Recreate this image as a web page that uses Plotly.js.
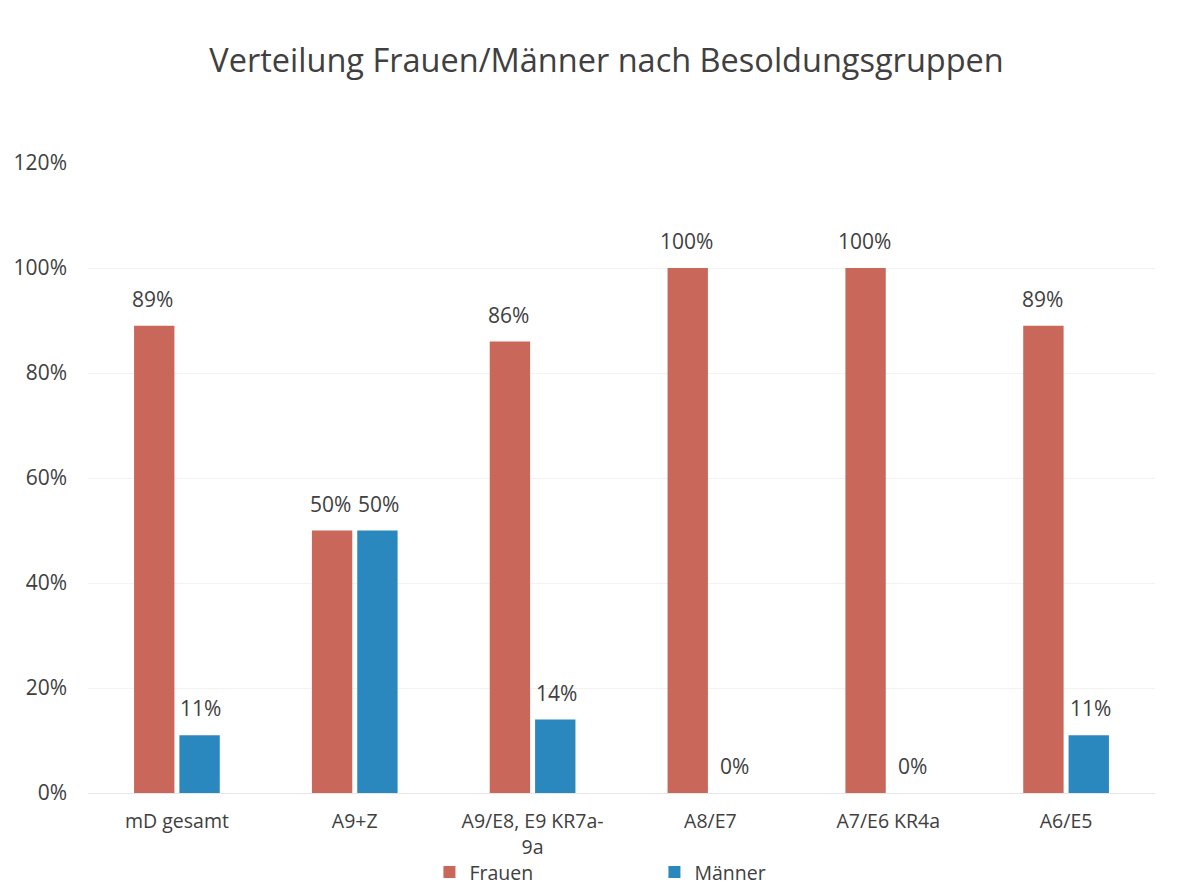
<!DOCTYPE html>
<html>
<head>
<meta charset="utf-8">
<script src="https://cdn.plot.ly/plotly-3.0.1.min.js"></script>
<style>html,body{margin:0;padding:0;background:#fff;}#chart{width:1194px;height:885px;}</style>
</head>
<body>
<div id="chart"></div>
<script>
const categories = ["mD gesamt", "A9+Z", "A9/E8, E9 KR7a-<br>9a", "A8/E7", "A7/E6 KR4a", "A6/E5"];
const frauen = [0.89, 0.50, 0.86, 1.00, 1.00, 0.89];
const maenner = [0.11, 0.50, 0.14, 0.00, 0.00, 0.11];
const seriesNames = ["Frauen", "Männer"];
const yTickVals = [0, 0.2, 0.4, 0.6, 0.8, 1.0, 1.2];
const yTickText = ["0%", "20%", "40%", "60%", "80%", "100%", "120%"];

const FONT = "Open Sans, Noto Sans, sans-serif";
const TXT = "#404040";
const colors = ["#C8675A", "#2B88BE"];

const traces = [frauen, maenner].map((vals, i) => ({
  type: "bar",
  name: seriesNames[i],
  x: categories,
  y: vals,
  marker: {color: colors[i]},
  hoverinfo: "skip"
}));

const annotations = [];
[frauen, maenner].forEach((vals, i) => {
  vals.forEach((v, j) => {
    annotations.push({
      x: categories[j], y: v, xref: "x", yref: "y",
      text: Math.round(v * 100) + "%",
      showarrow: false,
      xshift: i === 0 ? -24 : 24,
      yshift: 27,
      yanchor: "middle",
      font: {family: FONT, size: 21, color: TXT}
    });
  });
});

const layout = {
  width: 1194, height: 885,
  paper_bgcolor: "#fff", plot_bgcolor: "#fff",
  margin: {l: 88, r: 39, t: 163, b: 92, autoexpand: false},
  title: {text: "Verteilung Frauen/Männer nach Besoldungsgruppen", x: 0.508, xanchor: "center", y: 0.932, yanchor: "middle",
          font: {family: FONT, size: 32.5, color: TXT}},
  barmode: "group",
  bargap: 0.49,
  bargroupgap: 0.11,
  xaxis: {
    type: "category",
    showgrid: false, zeroline: false,
    showline: true, linecolor: "#e6e6e6", linewidth: 1,
    ticks: "", ticklabelstandoff: 11,
    tickfont: {family: FONT, size: 19.5, color: TXT}
  },
  yaxis: {
    range: [0, 1.2],
    tickvals: yTickVals, ticktext: yTickText,
    showgrid: true, gridcolor: "#f2f2f2", gridwidth: 1,
    zeroline: false, showline: false,
    ticks: "", ticklabelstandoff: 20,
    tickfont: {family: FONT, size: 21, color: TXT}
  },
  legend: {
    orientation: "h", x: 0.32, xanchor: "left", y: -0.126, yanchor: "middle",
    font: {family: FONT, size: 19.5, color: TXT},
    bgcolor: "rgba(0,0,0,0)",
    entrywidth: 180, itemwidth: 30, traceorder: "normal",
    tracegroupgap: 0
  },
  annotations: annotations,
  showlegend: true
};

Plotly.newPlot("chart", traces, layout, {displayModeBar: false, staticPlot: true});
</script>
</body>
</html>
